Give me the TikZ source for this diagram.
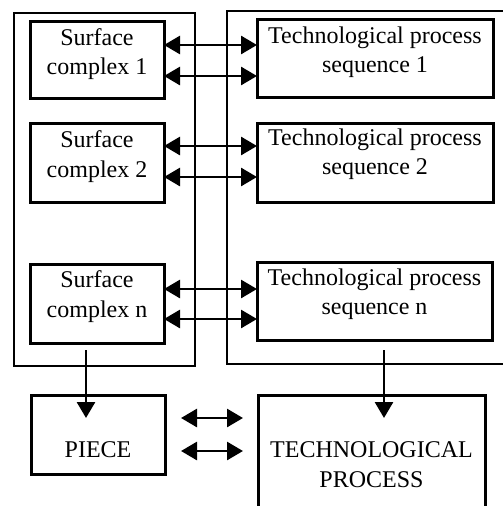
\documentclass[tikz,border=0pt]{standalone}
\usepackage{fontspec}
\setmainfont{Liberation Serif}
\usetikzlibrary{arrows.meta}
\begin{document}
\begin{tikzpicture}[x=1pt,y=-1pt,
  box/.style={draw,line width=3pt,rectangle,inner sep=0pt,outer sep=0pt},
  txt/.style={inner sep=0pt,outer sep=0pt,align=center,anchor=north,font=\fontsize{24}{29.5}\selectfont},
  conn/.style={line width=2.8pt,{Triangle[length=16pt,width=18pt]}-{Triangle[length=16pt,width=18pt]}},
  down/.style={line width=2.8pt,-{Triangle[length=16pt,width=18pt]}}]
\clip (0,0) rectangle (503,506);
\fill[white] (0,0) rectangle (503,506);
% outer frames
\node[box,line width=2.8pt,minimum width=181pt,minimum height=353pt] (lframe) at (104.5,189.5) {};
\node[box,line width=2.8pt,minimum width=300pt,minimum height=353pt,anchor=north west] (rframe) at (227,11) {};
% surface complex boxes
\node[box,minimum width=134pt,minimum height=77pt] (sc1) at (97,59.5) {};
\node[box,minimum width=134pt,minimum height=79pt] (sc2) at (97,162.5) {};
\node[box,minimum width=134pt,minimum height=79pt] (scn) at (97,303.5) {};
% technological process sequence boxes
\node[box,minimum width=236pt,minimum height=78pt] (t1) at (375,58) {};
\node[box,minimum width=236pt,minimum height=79pt] (t2) at (375,162.5) {};
\node[box,minimum width=235pt,minimum height=78pt] (tn) at (374.5,301) {};
% bottom boxes
\node[box,minimum width=134pt,minimum height=79pt] (piece) at (98,434.5) {};
\node[box,minimum width=227pt,minimum height=140pt,anchor=north] (tp) at (371.5,395) {};
% texts
\node[txt] (sc1t) at (97,28.6) {Surface\\complex 1};
\node[txt] (sc2t) at (97,130.6) {Surface\\complex 2};
\node[txt] (scnt) at (97,270.6) {Surface\\complex n};
\node[txt] (t1t) at (375,26.6) {Technological process\\sequence 1};
\node[txt] (t2t) at (375,128.6) {Technological process\\sequence 2};
\node[txt] (tnt) at (374.5,268.6) {Technological process\\sequence n};
\node[txt] (piecet) at (98,442) {PIECE};
\node[txt] (tpt) at (371.5,442) {TECHNOLOGICAL\\PROCESS};
% horizontal two-way connectors
\draw[conn] ([yshift=14.5pt]sc1.east) -- ([yshift=14.5pt]sc1.east -| t1.west);
\draw[conn] ([yshift=-16.5pt]sc1.east) -- ([yshift=-16.5pt]sc1.east -| t1.west);
\draw[conn] ([yshift=16.5pt]sc2.east) -- ([yshift=16.5pt]sc2.east -| t2.west);
\draw[conn] ([yshift=-14.5pt]sc2.east) -- ([yshift=-14.5pt]sc2.east -| t2.west);
\draw[conn] ([yshift=14.5pt]scn.east) -- ([yshift=14.5pt]scn.east -| tn.west);
\draw[conn] ([yshift=-15.5pt]scn.east) -- ([yshift=-15.5pt]scn.east -| tn.west);
\draw[conn] ([xshift=16pt,yshift=16.5pt]piece.east) -- ([xshift=-15pt,yshift=16.5pt]piece.east -| tp.west);
\draw[conn] ([xshift=16pt,yshift=-16.5pt]piece.east) -- ([xshift=-15pt,yshift=-16.5pt]piece.east -| tp.west);
% downward arrows
\coordinate (ps) at ([xshift=-11pt,yshift=-7pt]scn.south);
\coordinate (pe) at ([xshift=-12pt,yshift=-23pt]piece.north);
\draw[down] (ps) -- (ps |- pe);
\coordinate (ts) at ([xshift=9.5pt,yshift=-10pt]tn.south);
\coordinate (te) at ([xshift=12.5pt,yshift=-23pt]tp.north);
\draw[down] (ts) -- (ts |- te);
\end{tikzpicture}
\end{document}
